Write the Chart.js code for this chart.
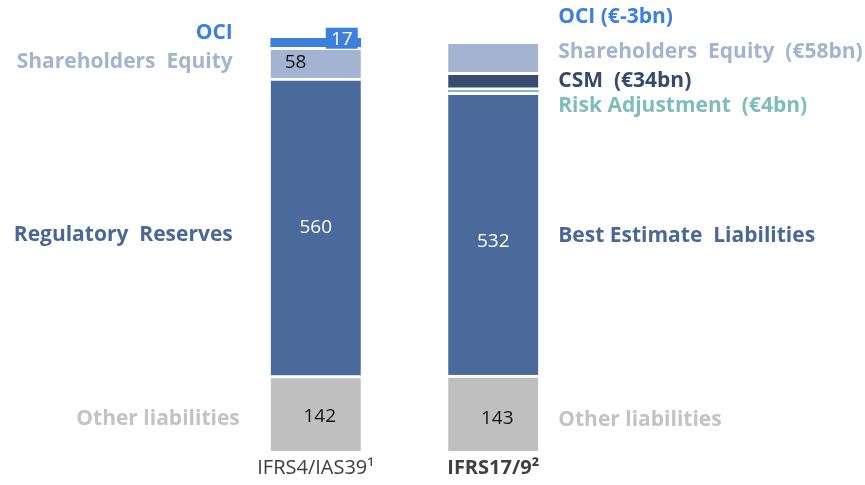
<!DOCTYPE html>
<html>
<head>
<meta charset="utf-8">
<script src="https://cdn.jsdelivr.net/npm/chart.js@4"></script>
<style>
  html, body { margin: 0; padding: 0; background: #fff; }
  #wrap { width: 865px; height: 485px; }
</style>
</head>
<body>
<div id="wrap"><canvas id="balanceChart"></canvas></div>
<script>
// categories and values (EUR bn)
const categories = ['IFRS4/IAS39\u00b9', 'IFRS17/9\u00b2']
const otherLiabilities = [142, 143]
const reserves = [560, 532]
const riskAdjustment = [null, 4]
const csm = [null, 34]
const shareholdersEquity = [58, 58]
const oci = [17, null]
const ociRight = -3 // not drawn, shown in label only

const leftLabels = ['Other liabilities', 'Regulatory  Reserves', null, null, 'Shareholders  Equity', 'OCI']
const rightLabels = ['Other liabilities', 'Best Estimate  Liabilities', 'Risk Adjustment  (€4bn)',
  'CSM  (€34bn)', 'Shareholders  Equity  (€58bn)', 'OCI (€' + ociRight + 'bn)']

const fillColors = ['#bfbfbf', '#4a6a9b', '#80bfc0', '#374c6e', '#a2b4d2', '#3c7fdc']
const textColors = ['#c3c3c3', '#4a6797', '#7fbcbc', '#364a6b', '#a3b4cf', '#3c7fdc']

const FONT = 'Open Sans'

const gap = { top: 3, right: 0, bottom: 0, left: 0 }

// small vertical nudges for the side labels [dataset][bar]
const nudge = [[6, 7], [8, 2], [0, 15], [0, 0], [-1, -5], [-10, -24]]

const labelPlugin = {
  id: 'segmentLabels',
  afterDatasetsDraw(chart) {
    const ctx = chart.ctx
    ctx.save()
    ctx.textBaseline = 'middle'

    chart.data.datasets.forEach((ds, di) => {
      const meta = chart.getDatasetMeta(di)
      meta.data.forEach((bar, i) => {
        const value = ds.data[i]
        const names = i === 0 ? leftLabels : rightLabels
        const yMid = (bar.y + bar.base) / 2
        const half = 45
        const name = names[di]
        if (name) {
          let y = yMid
          if (value == null) {
            // no segment (right OCI): measure from the bar top
            y = chart.getDatasetMeta(4).data[i].y
          }
          y += nudge[di][i]
          ctx.font = 'bold 21px ' + FONT
          ctx.fillStyle = textColors[di]
          if (i === 0) {
            ctx.textAlign = 'right'
            ctx.fillText(name, bar.x - (di === 0 ? 76 : 83), y)
          } else {
            ctx.textAlign = 'left'
            ctx.fillText(name, bar.x + 65, y)
          }
        }
        if (value == null) return
        // values inside bars
        ctx.font = '19px ' + FONT
        if (di === 0) {
          ctx.fillStyle = '#111'
          ctx.textAlign = 'center'
          ctx.fillText(value, bar.x + 4, yMid + (i === 0 ? 3 : 6))
        } else if (di === 1) {
          ctx.fillStyle = '#fff'
          ctx.textAlign = 'center'
          ctx.fillText(value, bar.x, yMid + (i === 0 ? 1 : 8))
        } else if (di === 4 && i === 0) {
          ctx.fillStyle = '#111'
          ctx.textAlign = 'left'
          ctx.fillText(value, bar.x - half + 14, yMid)
        } else if (di === 5 && i === 0) {
          const bw = 32, bh = 21
          const bx = bar.x + half - bw - 3
          const by = yMid - 15
          ctx.fillStyle = fillColors[5]
          ctx.fillRect(bx, by, bw, bh)
          ctx.fillStyle = '#fff'
          ctx.textAlign = 'center'
          ctx.fillText(value, bx + bw / 2, by + bh / 2 + 1)
        }
      })
    })
    ctx.restore()
  }
}

const makeSet = (label, data, idx, border) => ({
  label: label,
  data: data,
  backgroundColor: fillColors[idx],
  borderColor: '#ffffff',
  borderWidth: border,
  borderSkipped: false,
  barThickness: 90
})

new Chart(document.getElementById('balanceChart'), {
  type: 'bar',
  data: {
    labels: categories,
    datasets: [
      makeSet('Other liabilities', otherLiabilities, 0, gap),
      makeSet('Reserves', reserves, 1, gap),
      makeSet('Risk Adjustment', riskAdjustment, 2, 0),
      makeSet('CSM', csm, 3, { top: 3, right: 0, bottom: 3, left: 0 }),
      makeSet('Shareholders Equity', shareholdersEquity, 4, gap),
      makeSet('OCI', oci, 5, 0)
    ]
  },
  options: {
    responsive: true,
    maintainAspectRatio: false,
    animation: false,
    layout: { padding: { top: 26, bottom: 0, left: 227, right: 283 } },
    plugins: { legend: { display: false }, tooltip: { enabled: false } },
    scales: {
      x: {
        stacked: true,
        grid: { display: false, drawTicks: false },
        border: { display: false },
        ticks: {
          padding: 5,
          color: '#404040',
          font: (c) => ({ family: FONT, size: 20, weight: c.index === 1 ? 'bold' : 'normal' })
        }
      },
      y: {
        stacked: true,
        display: false,
        min: 0,
        max: 800
      }
    }
  },
  plugins: [labelPlugin]
})
</script>
</body>
</html>
